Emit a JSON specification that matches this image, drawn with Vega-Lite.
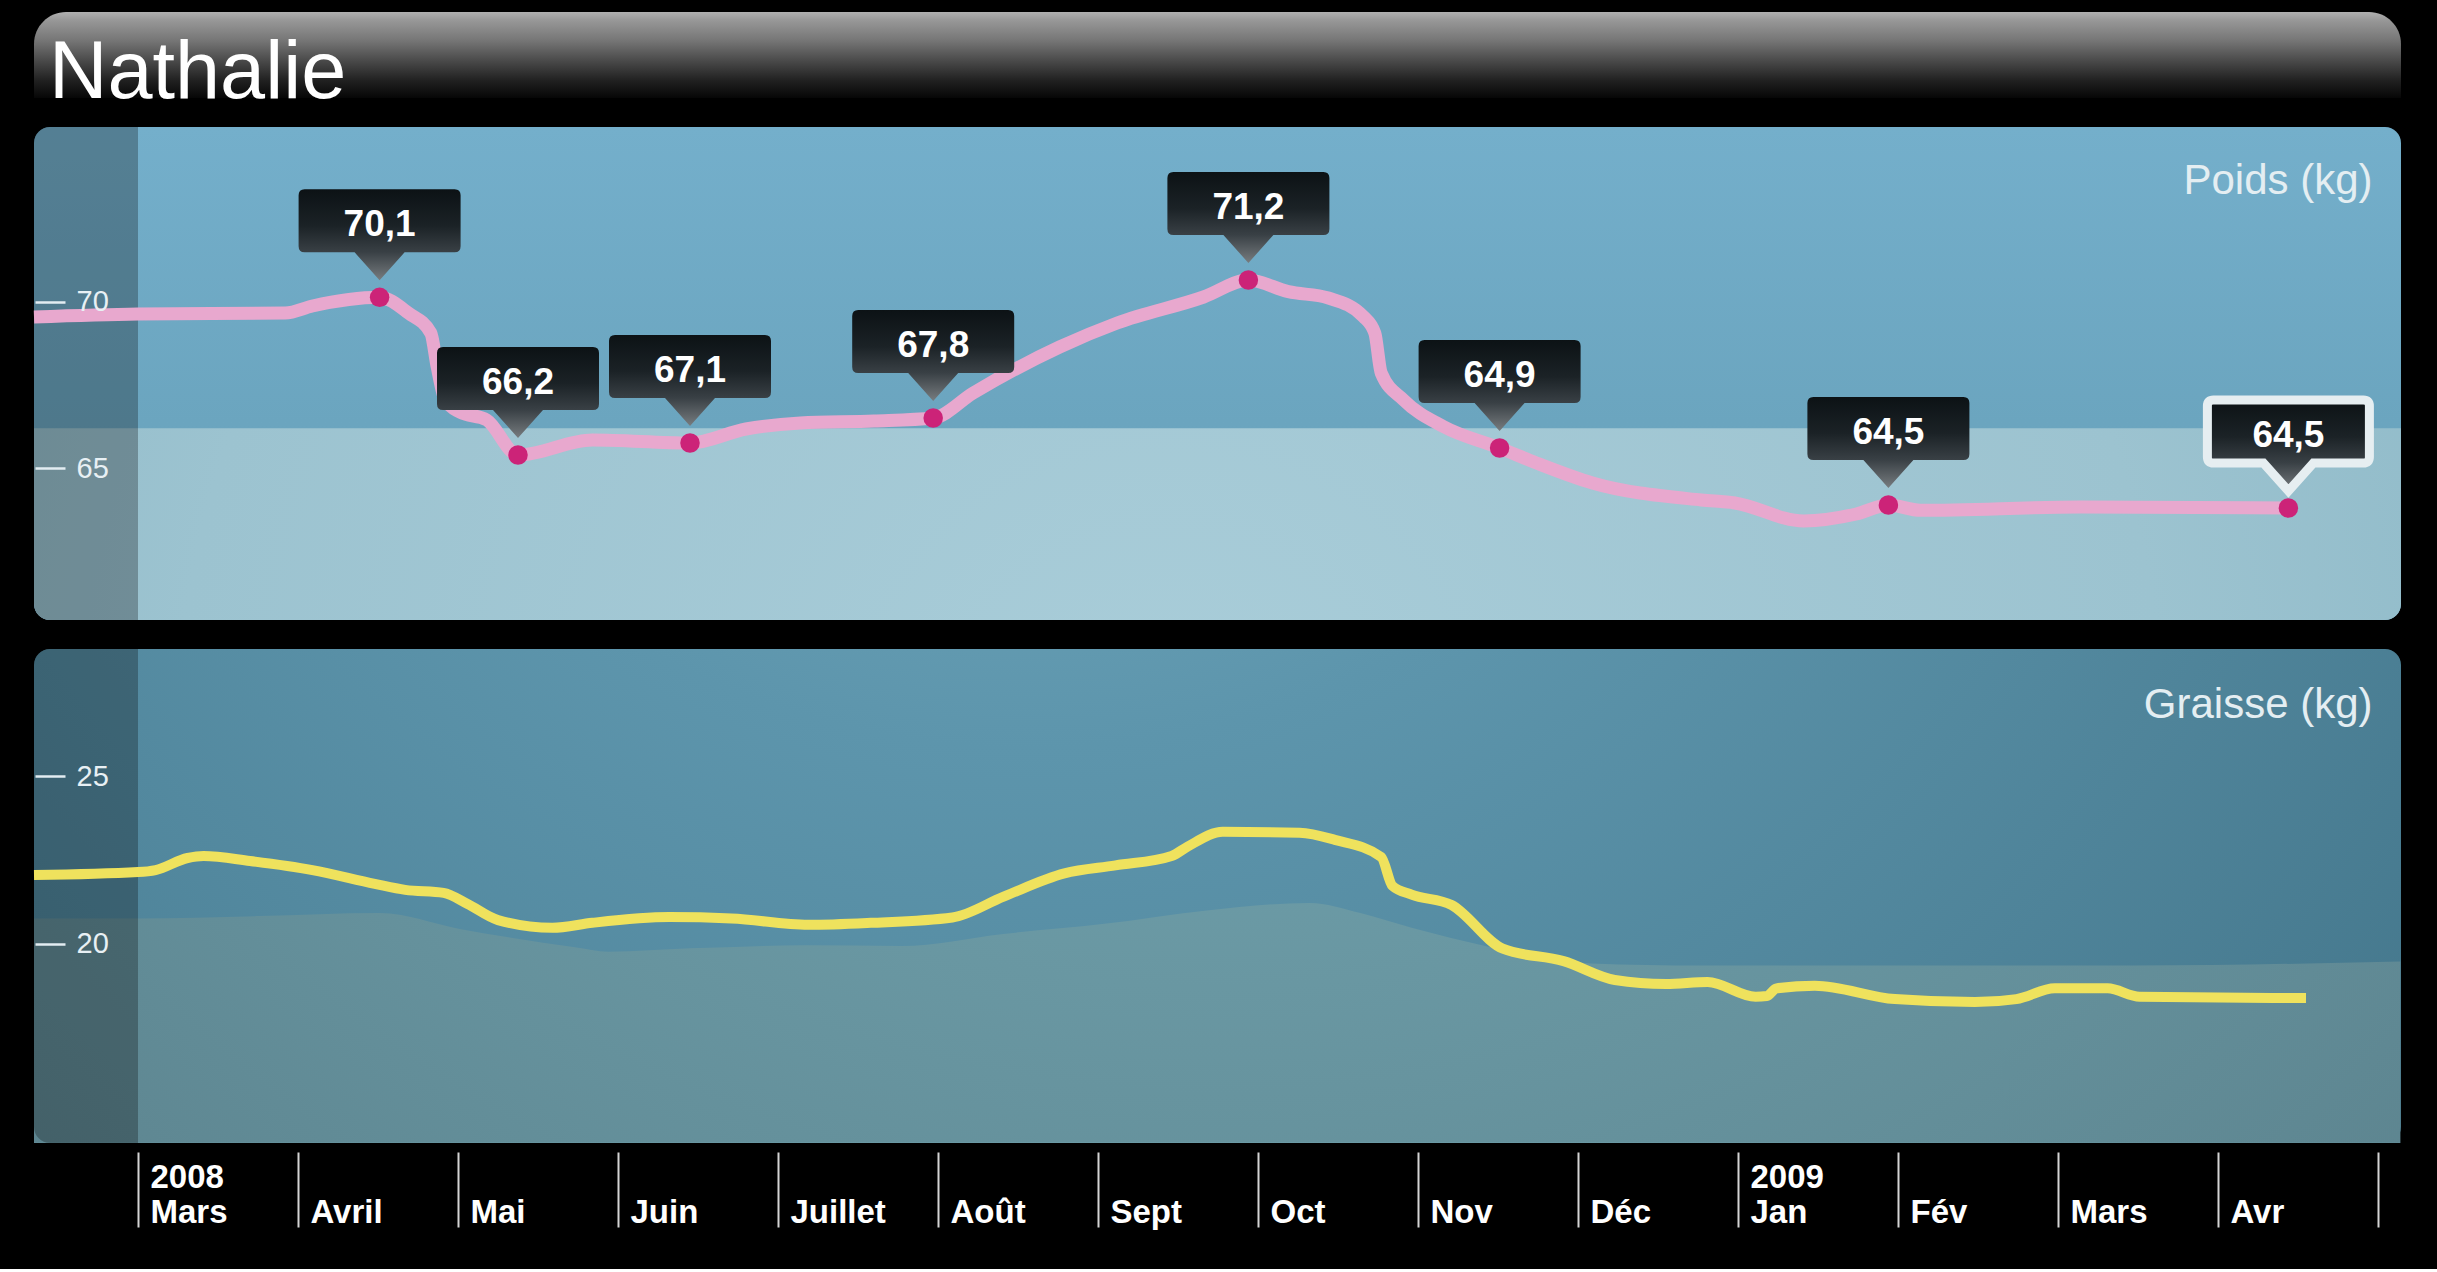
{
  "$schema": "https://vega.github.io/schema/vega-lite/v6.json",
  "background": "#000000",
  "padding": {"left": 27, "top": 12, "right": 37, "bottom": 40},
  "config": {"view": {"stroke": null}, "font": "Liberation Sans"},
  "spacing": 13,
  "resolve": {"scale": {"x": "independent", "y": "independent"}},
  "datasets": {
    "entete": [{"nom": "Nathalie"}],
    "fond_poids": [{"panneau": "Poids (kg)", "zone_normale": 66.2}],
    "fond_graisse": [{"panneau": "Graisse (kg)"}],
    "poids": [
      {"mois": -0.65, "kg": 69.54},
      {"mois": 0.0, "kg": 69.63},
      {"mois": 0.92, "kg": 69.66},
      {"mois": 1.09, "kg": 69.87},
      {"mois": 1.51, "kg": 70.13, "etiquette": "70,1"},
      {"mois": 1.69, "kg": 69.66},
      {"mois": 1.83, "kg": 69.06},
      {"mois": 1.87, "kg": 68.04},
      {"mois": 1.92, "kg": 67.05},
      {"mois": 2.01, "kg": 66.69},
      {"mois": 2.18, "kg": 66.45},
      {"mois": 2.375, "kg": 65.4, "etiquette": "66,2"},
      {"mois": 2.84, "kg": 65.85},
      {"mois": 3.45, "kg": 65.76, "etiquette": "67,1"},
      {"mois": 3.8, "kg": 66.18},
      {"mois": 4.14, "kg": 66.36},
      {"mois": 4.6, "kg": 66.42},
      {"mois": 4.97, "kg": 66.51, "etiquette": "67,8"},
      {"mois": 5.22, "kg": 67.26},
      {"mois": 5.76, "kg": 68.64},
      {"mois": 6.12, "kg": 69.36},
      {"mois": 6.66, "kg": 70.14},
      {"mois": 6.94, "kg": 70.65, "etiquette": "71,2"},
      {"mois": 7.19, "kg": 70.3},
      {"mois": 7.44, "kg": 70.11},
      {"mois": 7.66, "kg": 69.55},
      {"mois": 7.73, "kg": 69.06},
      {"mois": 7.77, "kg": 67.86},
      {"mois": 7.91, "kg": 67.05},
      {"mois": 8.16, "kg": 66.25},
      {"mois": 8.51, "kg": 65.61, "etiquette": "64,9"},
      {"mois": 8.74, "kg": 65.16},
      {"mois": 9.09, "kg": 64.56},
      {"mois": 9.77, "kg": 64.05},
      {"mois": 9.98, "kg": 63.96},
      {"mois": 10.41, "kg": 63.42},
      {"mois": 10.74, "kg": 63.63},
      {"mois": 10.94, "kg": 63.9, "etiquette": "64,5"},
      {"mois": 11.14, "kg": 63.74},
      {"mois": 12.14, "kg": 63.84},
      {"mois": 13.44, "kg": 63.81, "etiquette": "64,5", "choisi": true}
    ],
    "graisse": [
      {"mois": -0.65, "kg": 22.05},
      {"mois": 0.0, "kg": 22.14},
      {"mois": 0.11, "kg": 22.2},
      {"mois": 0.31, "kg": 22.56},
      {"mois": 0.41, "kg": 22.62},
      {"mois": 0.7, "kg": 22.47},
      {"mois": 1.09, "kg": 22.2},
      {"mois": 1.48, "kg": 21.79},
      {"mois": 1.67, "kg": 21.61},
      {"mois": 1.91, "kg": 21.52},
      {"mois": 2.06, "kg": 21.19},
      {"mois": 2.25, "kg": 20.71},
      {"mois": 2.59, "kg": 20.48},
      {"mois": 2.84, "kg": 20.63},
      {"mois": 3.32, "kg": 20.8},
      {"mois": 3.71, "kg": 20.76},
      {"mois": 4.19, "kg": 20.57},
      {"mois": 4.58, "kg": 20.63},
      {"mois": 5.09, "kg": 20.79},
      {"mois": 5.41, "kg": 21.41},
      {"mois": 5.79, "kg": 22.1},
      {"mois": 6.11, "kg": 22.34},
      {"mois": 6.46, "kg": 22.62},
      {"mois": 6.56, "kg": 22.9},
      {"mois": 6.78, "kg": 23.34},
      {"mois": 7.26, "kg": 23.31},
      {"mois": 7.48, "kg": 23.1},
      {"mois": 7.77, "kg": 22.59},
      {"mois": 7.84, "kg": 21.73},
      {"mois": 7.96, "kg": 21.47},
      {"mois": 8.21, "kg": 21.16},
      {"mois": 8.53, "kg": 19.86},
      {"mois": 8.91, "kg": 19.49},
      {"mois": 9.23, "kg": 18.93},
      {"mois": 9.55, "kg": 18.81},
      {"mois": 9.81, "kg": 18.87},
      {"mois": 10.11, "kg": 18.43},
      {"mois": 10.18, "kg": 18.45},
      {"mois": 10.24, "kg": 18.68},
      {"mois": 10.48, "kg": 18.76},
      {"mois": 10.98, "kg": 18.36},
      {"mois": 11.48, "kg": 18.27},
      {"mois": 11.74, "kg": 18.36},
      {"mois": 11.98, "kg": 18.68},
      {"mois": 12.31, "kg": 18.68},
      {"mois": 12.51, "kg": 18.43},
      {"mois": 13.55, "kg": 18.39}
    ],
    "graisse_ref": [
      {"mois": -0.65, "kg": 20.76},
      {"mois": 0.0, "kg": 20.76},
      {"mois": 0.76, "kg": 20.83},
      {"mois": 1.51, "kg": 20.92},
      {"mois": 2.01, "kg": 20.45},
      {"mois": 2.73, "kg": 19.9},
      {"mois": 2.94, "kg": 19.77},
      {"mois": 3.45, "kg": 19.87},
      {"mois": 4.17, "kg": 19.96},
      {"mois": 4.77, "kg": 19.94},
      {"mois": 5.41, "kg": 20.3},
      {"mois": 6.04, "kg": 20.6},
      {"mois": 6.68, "kg": 21.0},
      {"mois": 7.32, "kg": 21.22},
      {"mois": 7.64, "kg": 20.92},
      {"mois": 7.96, "kg": 20.48},
      {"mois": 8.44, "kg": 19.92},
      {"mois": 9.08, "kg": 19.42},
      {"mois": 9.77, "kg": 19.36},
      {"mois": 12.48, "kg": 19.36},
      {"mois": 14.14, "kg": 19.48}
    ]
  },
  "vconcat": [
    {
      "width": 2367,
      "height": 86,
      "data": {"name": "entete"},
      "layer": [
        {
          "mark": {"type": "rect", "cornerRadiusTopLeft": 32, "cornerRadiusTopRight": 32,
            "fill": {"gradient": "linear", "x1": 0, "y1": 0, "x2": 0, "y2": 1, "stops": [
              {"offset": 0, "color": "#b0b0b0"}, {"offset": 0.1, "color": "#979797"}, {"offset": 0.33, "color": "#767676"},
              {"offset": 0.56, "color": "#4b4b4b"}, {"offset": 0.8, "color": "#202020"}, {"offset": 1, "color": "#060606"}]}},
          "encoding": {}
        },
        {
          "mark": {"type": "text", "align": "left", "baseline": "alphabetic", "dx": 15, "dy": 43, "fontSize": 81, "fontWeight": "normal", "font": "Liberation Sans", "fill": "#ffffff"},
          "encoding": {
            "x": {"field": "nom", "type": "nominal", "scale": {"type": "point", "padding": 0, "align": 0}, "axis": null},
            "text": {"field": "nom"}
          }
        }
      ]
    },
    {
      "spacing": 29,
      "resolve": {"scale": {"x": "independent", "y": "independent"}},
      "vconcat": [
        {
          "width": 2367,
          "height": 493,
          "layer": [
            {
              "data": {"name": "fond_poids"},
              "mark": {"type": "rect", "cornerRadius": 16,
                "fill": {"gradient": "linear", "x1": 0, "y1": 0, "x2": 0, "y2": 1, "stops": [
                  {"offset": 0, "color": "#74afcb"}, {"offset": 0.6, "color": "#6ba5bf"}, {"offset": 1, "color": "#68a0b9"}]}},
              "encoding": {}
            },
            {
              "data": {"name": "fond_poids"},
              "mark": {"type": "rect", "cornerRadiusBottomLeft": 16, "cornerRadiusBottomRight": 16,
                "fill": {"gradient": "radial", "x1": 0.48, "y1": 0.6, "r1": 0, "x2": 0.48, "y2": 0.6, "r2": 0.7, "stops": [
                  {"offset": 0, "color": "#a9cdd9"}, {"offset": 0.6, "color": "#9cc3d0"}, {"offset": 1, "color": "#88b5c4"}]}},
              "encoding": {
                "y": {"field": "zone_normale", "type": "quantitative", "scale": {"domain": [60.45, 75.24], "nice": false, "zero": false},
                  "axis": {"values": [65, 70], "orient": "left", "offset": -31, "zindex": 1, "minExtent": 0, "titlePadding": 0, "tickSize": 30, "tickWidth": 2.5, "tickColor": "#e3edf2", "domain": false, "grid": false,
                    "labelAlign": "left", "labelBaseline": "middle", "labelPadding": -41, "labelFontSize": 29, "labelColor": "#e8f0f4", "labelFont": "Liberation Sans",
                    "title": "Poids (kg)", "titleX": 2307, "titleY": 66, "titleAngle": 0, "titleAlign": "right", "titleBaseline": "alphabetic",
                    "titleFontSize": 42, "titleFontWeight": "normal", "titleColor": "#e4eef2", "titleFont": "Liberation Sans"}}
              }
            },
            {
              "data": {"name": "fond_poids"},
              "mark": {"type": "rect", "color": "#000000", "opacity": 0.27, "cornerRadiusTopLeft": 16, "cornerRadiusBottomLeft": 16},
              "encoding": {
                "x": {"datum": -0.65, "type": "quantitative", "scale": {"domain": [-0.65, 14.14375], "nice": false, "zero": false}, "axis": null},
                "x2": {"datum": 0}
              }
            },
            {
              "data": {"name": "poids"},
              "mark": {"type": "line", "interpolate": "monotone", "stroke": "#e8a8ce", "strokeWidth": 13, "strokeCap": "butt", "strokeJoin": "round"},
              "encoding": {
                "x": {"field": "mois", "type": "quantitative", "scale": {"domain": [-0.65, 14.14375], "nice": false, "zero": false}, "axis": null},
                "y": {"field": "kg", "type": "quantitative", "scale": {"domain": [60.45, 75.24], "nice": false, "zero": false}}
              }
            },
            {
              "data": {"name": "poids"},
              "transform": [{"filter": "datum.etiquette != null"}],
              "mark": {"type": "circle", "size": 380, "color": "#cc2378", "opacity": 1},
              "encoding": {
                "x": {"field": "mois", "type": "quantitative", "axis": null},
                "y": {"field": "kg", "type": "quantitative"}
              }
            },
            {
              "data": {"name": "poids"},
              "transform": [{"filter": "datum.etiquette != null"}],
              "mark": {"type": "point", "filled": true, "opacity": 1, "size": 40000,
                "shape": "M -0.75 -1.08 L 0.75 -1.08 Q 0.81 -1.08 0.81 -1.02 L 0.81 -0.51 Q 0.81 -0.45 0.75 -0.45 L 0.25 -0.45 L 0 -0.17 L -0.25 -0.45 L -0.75 -0.45 Q -0.81 -0.45 -0.81 -0.51 L -0.81 -1.02 Q -0.81 -1.08 -0.75 -1.08 Z",
                "fill": {"gradient": "linear", "x1": 0, "y1": 0, "x2": 0, "y2": 1, "stops": [
                  {"offset": 0, "color": "#0c1215"}, {"offset": 0.4, "color": "#1b2226"}, {"offset": 0.69, "color": "#394045"}, {"offset": 1, "color": "#777c7f"}]},
                "stroke": "#e6eef1"},
              "encoding": {
                "x": {"field": "mois", "type": "quantitative", "axis": null},
                "y": {"field": "kg", "type": "quantitative"},
                "strokeWidth": {"condition": {"test": "datum.choisi === true", "value": 9}, "value": 0}
              }
            },
            {
              "data": {"name": "poids"},
              "transform": [{"filter": "datum.etiquette != null"}],
              "mark": {"type": "text", "fill": "#ffffff", "fontSize": 37, "fontWeight": "bold", "font": "Liberation Sans", "align": "center", "baseline": "alphabetic", "dy": -61},
              "encoding": {
                "x": {"field": "mois", "type": "quantitative", "axis": null},
                "y": {"field": "kg", "type": "quantitative"},
                "text": {"field": "etiquette"}
              }
            }
          ]
        },
        {
          "width": 2367,
          "height": 494,
          "layer": [
            {
              "data": {"name": "fond_graisse"},
              "mark": {"type": "rect", "cornerRadius": 16,
                "fill": {"gradient": "radial", "x1": 0.42, "y1": 0.1, "r1": 0, "x2": 0.42, "y2": 0.1, "r2": 0.75, "stops": [
                  {"offset": 0, "color": "#7fb6c8"}, {"offset": 0.45, "color": "#5d95ac"}, {"offset": 1, "color": "#45788d"}]}},
              "encoding": {}
            },
            {
              "data": {"name": "graisse_ref"},
              "mark": {"type": "area", "interpolate": "monotone",
                "fill": {"gradient": "radial", "x1": 0.5, "y1": 0.0, "r1": 0, "x2": 0.5, "y2": 0.0, "r2": 0.8, "stops": [
                  {"offset": 0, "color": "#84b6be"}, {"offset": 0.55, "color": "#6b9aa5"}, {"offset": 1, "color": "#5b828d"}]}},
              "encoding": {
                "x": {"field": "mois", "type": "quantitative", "scale": {"domain": [-0.65, 14.14375], "nice": false, "zero": false}},
                "y": {"field": "kg", "type": "quantitative", "scale": {"domain": [14.077, 28.78], "nice": false, "zero": false},
                  "axis": {"values": [20, 25], "orient": "left", "offset": -31, "zindex": 1, "minExtent": 0, "titlePadding": 0, "tickSize": 30, "tickWidth": 2.5, "tickColor": "#e3edf2", "domain": false, "grid": false,
                    "labelAlign": "left", "labelBaseline": "middle", "labelPadding": -41, "labelFontSize": 29, "labelColor": "#e8f0f4", "labelFont": "Liberation Sans",
                    "title": "Graisse (kg)", "titleX": 2307, "titleY": 68, "titleAngle": 0, "titleAlign": "right", "titleBaseline": "alphabetic",
                    "titleFontSize": 42, "titleFontWeight": "normal", "titleColor": "#e4eef2", "titleFont": "Liberation Sans"}},
                "y2": {"datum": 14.077}
              }
            },
            {
              "data": {"name": "fond_graisse"},
              "mark": {"type": "rect", "color": "#000000", "opacity": 0.27, "cornerRadiusTopLeft": 16, "cornerRadiusBottomLeft": 16},
              "encoding": {
                "x": {"datum": -0.65, "type": "quantitative"},
                "x2": {"datum": 0}
              }
            },
            {
              "data": {"name": "graisse"},
              "mark": {"type": "line", "interpolate": "monotone", "stroke": "#efe25d", "strokeWidth": 10, "strokeCap": "butt", "strokeJoin": "round"},
              "encoding": {
                "x": {"field": "mois", "type": "quantitative",
                  "axis": {"values": [0, 1, 2, 3, 4, 5, 6, 7, 8, 9, 10, 11, 12, 13, 14], "orient": "bottom", "offset": 9, "zindex": 1, "minExtent": 0, "tickSize": 75, "tickWidth": 2, "tickColor": "#d4d4d4",
                    "domain": false, "grid": false, "title": null, "labelAlign": "left", "labelOffset": 12, "labelBaseline": "bottom", "labelPadding": -33,
                    "labelFontSize": 33, "labelFontWeight": "bold", "labelColor": "#ffffff", "labelFont": "Liberation Sans", "labelLineHeight": 35,
                    "labelFlush": false, "labelOverlap": false, "labelBound": false,
                    "labelExpr": "[['2008','Mars'],['','Avril'],['','Mai'],['','Juin'],['','Juillet'],['','Août'],['','Sept'],['','Oct'],['','Nov'],['','Déc'],['2009','Jan'],['','Fév'],['','Mars'],['','Avr'],''][datum.value]"}},
                "y": {"field": "kg", "type": "quantitative"}
              }
            }
          ]
        }
      ]
    }
  ]
}
